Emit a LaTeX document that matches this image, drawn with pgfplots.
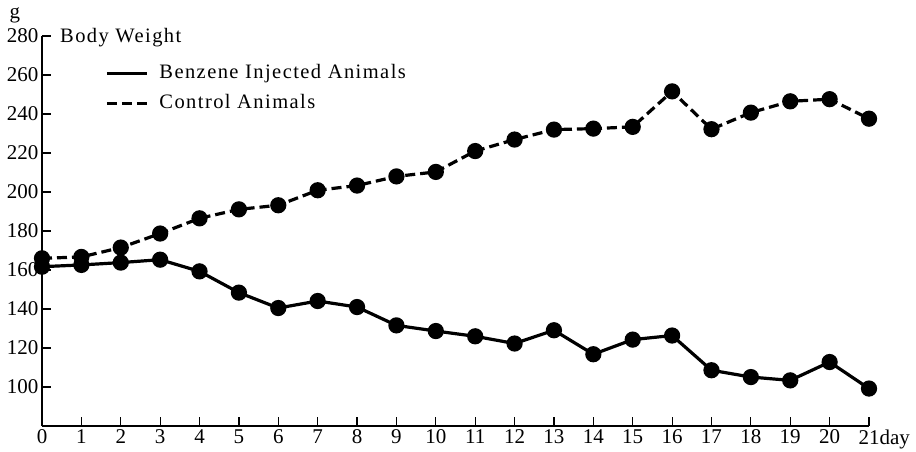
\documentclass[border=0pt]{standalone}
\usepackage{fontspec}
\setmainfont{Liberation Serif}
\usepackage{pgfplots}
\pgfplotsset{compat=1.18}
\newcommand{\lbl}{\fontsize{20.5}{22}\selectfont\addfontfeature{LetterSpace=7}}
\begin{document}
\begin{tikzpicture}[x=1pt,y=1pt]
\useasboundingbox (-42,-25) rectangle (874,426);
\begin{axis}[
  at={(0,0)}, anchor=south west,
  scale only axis, width=827pt, height=390pt,
  xmin=0, xmax=21, ymin=80, ymax=280,
  axis lines=left,
  axis line style={-, line width=1.3pt, black},
  xtick={0,1,...,21}, ytick={100,120,...,280},
  xticklabels={0,1,2,3,4,5,6,7,8,9,10,11,12,13,14,15,16,17,18,19,20,21\rlap{day}},
  tick align=inside, major tick length=9pt,
  tick style={line width=1.2pt, black},
  /pgf/number format/assume math mode=true,
  ticklabel style={font=\fontsize{21}{22}\selectfont},
  clip=false,
  legend style={at={(0.0762,0.865)}, anchor=west, draw=none, fill=none,
    inner sep=0pt, row sep=12pt, font=\lbl,
    nodes={inner sep=0pt, text height=14pt, text depth=4pt},
    /tikz/every odd column/.append style={column sep=11pt}},
  legend cell align=left,
  legend image code/.code={\draw[#1] (0pt,0pt) -- (40pt,0pt);},
]
\addlegendimage{line width=3.2pt, solid}
\addlegendentry{Benzene Injected Animals}
\addlegendimage{line width=3.2pt, dash pattern=on 10pt off 5pt}
\addlegendentry{Control Animals}

\addplot[forget plot, line width=3.2pt, black, mark=*, mark size=6.5pt, mark options={solid}]
coordinates {
(0,161.7) (1,162.6) (2,163.8) (3,165.3) (4,159.3) (5,148.4) (6,140.5) (7,144.1)
(8,141) (9,131.6) (10,128.7) (11,126) (12,122.3) (13,129.1) (14,116.8) (15,124.3)
(16,126.4) (17,108.6) (18,105.1) (19,103.4) (20,112.8) (21,99.2)
};
\addplot[forget plot, line width=3.2pt, black, dash pattern=on 10pt off 5pt, mark=*, mark size=6.5pt, mark options={solid}]
coordinates {
(0,166) (1,166.7) (2,171.5) (3,178.7) (4,186.5) (5,191.1) (6,193.2) (7,200.9)
(8,203.3) (9,208) (10,210.3) (11,221) (12,226.9) (13,232) (14,232.5) (15,233.4)
(16,251.6) (17,232.2) (18,240.7) (19,246.5) (20,247.6) (21,237.6)
};
\end{axis}
\node[font=\fontsize{21}{22}\selectfont, anchor=center] at (-27,411) {g};
\node[font=\lbl, anchor=west, inner sep=0pt] at (18,388) {Body Weight};
\end{tikzpicture}
\end{document}
